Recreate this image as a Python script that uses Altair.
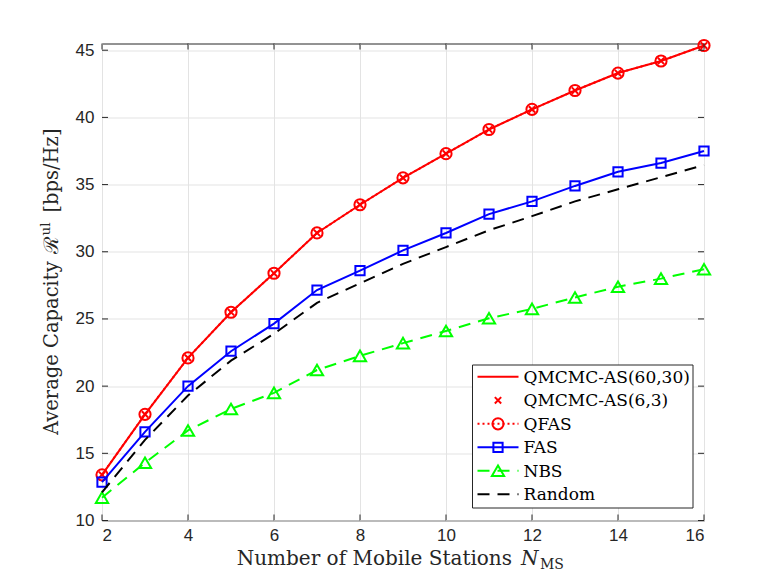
import altair as alt
import pandas as pd

# ---------------- data ----------------
N_MS = [2, 3, 4, 5, 6, 7, 8, 9, 10, 11, 12, 13, 14, 15, 16]
qmcmc_60_30 = [13.4, 17.9, 22.1, 25.5, 28.4, 31.4, 33.5, 35.5, 37.3, 39.1, 40.6, 42.0, 43.3, 44.2, 45.35]
qmcmc_6_3 = [13.4, 17.9, 22.1, 25.5, 28.4, 31.4, 33.5, 35.5, 37.3, 39.1, 40.6, 42.0, 43.3, 44.2, 45.35]
qfas = [13.4, 17.9, 22.1, 25.5, 28.4, 31.4, 33.5, 35.5, 37.3, 39.1, 40.6, 42.0, 43.3, 44.2, 45.35]
fas = [12.85, 16.6, 20.0, 22.6, 24.65, 27.15, 28.6, 30.1, 31.4, 32.8, 33.75, 34.9, 35.95, 36.6, 37.5]
nbs = [11.7, 14.3, 16.7, 18.3, 19.5, 21.2, 22.25, 23.2, 24.1, 25.05, 25.75, 26.6, 27.4, 28.0, 28.7]
random_bs = [12.1, 16.0, 19.3, 21.9, 23.9, 26.2, 27.65, 29.1, 30.35, 31.6, 32.65, 33.75, 34.65, 35.55, 36.45]

series_names = ["QMCMC-AS(60,30)", "QMCMC-AS(6,3)", "QFAS", "FAS", "NBS", "Random"]
series_values = [qmcmc_60_30, qmcmc_6_3, qfas, fas, nbs, random_bs]

x_ticks = [2, 4, 6, 8, 10, 12, 14, 16]
y_ticks = [10, 15, 20, 25, 30, 35, 40, 45]

# ---------------- build table ----------------
rows = []
for name, vals in zip(series_names, series_values):
    for xv, yv in zip(N_MS, vals):
        rows.append({"series": name, "x": xv, "y": yv})
df = pd.DataFrame(rows)

W, H = 602, 477
AXIS_COLOR = "#262626"
X_SHAPE = "M-1,-1L1,1M-1,1L1,-1"

X = alt.X("x:Q", scale=alt.Scale(domain=[2, 16], nice=False, zero=False),
          axis=alt.Axis(values=x_ticks, title=None, ticks=False, domain=False,
                        labelPadding=7, format="d"))
Y = alt.Y("y:Q", scale=alt.Scale(domain=[10, 45.5], nice=False, zero=False),
          axis=alt.Axis(values=y_ticks, title=None, ticks=False, domain=False,
                        labelPadding=8, format="d"))

base = alt.Chart(df)


def sel(name):
    return base.transform_filter(alt.datum.series == name)


layers = []

# data series
layers.append(sel("QFAS").mark_line(color="#ff0000", strokeWidth=2, strokeDash=[2, 3]).encode(X, Y))
layers.append(sel("QMCMC-AS(60,30)").mark_line(color="#ff0000", strokeWidth=2).encode(X, Y))
layers.append(sel("QFAS").mark_point(shape="circle", filled=False, color="#ff0000",
                                     size=125, strokeWidth=2, opacity=1).encode(X, Y))
layers.append(sel("QMCMC-AS(6,3)").mark_point(shape=X_SHAPE, filled=False, color="#ff0000",
                                              size=40, strokeWidth=2, opacity=1).encode(X, Y))
layers.append(sel("FAS").mark_line(color="#0000ff", strokeWidth=2).encode(X, Y))
layers.append(sel("FAS").mark_point(shape="square", filled=False, color="#0000ff",
                                    size=85, strokeWidth=2, opacity=1).encode(X, Y))
layers.append(sel("NBS").mark_line(color="#00ff00", strokeWidth=2, strokeDash=[12, 8]).encode(X, Y))
layers.append(sel("NBS").mark_point(shape="triangle-up", filled=False, color="#00ff00",
                                    size=150, strokeWidth=2, opacity=1).encode(X, Y))
layers.append(sel("Random").mark_line(color="#000000", strokeWidth=2, strokeDash=[12, 8]).encode(X, Y))

# inward ticks on all four sides
xt = alt.Chart(pd.DataFrame({"x": x_ticks}))
yt = alt.Chart(pd.DataFrame({"y": y_ticks}))
layers.append(xt.mark_rule(color=AXIS_COLOR, strokeWidth=1).encode(X, y=alt.value(H), y2=alt.value(H - 6)))
layers.append(xt.mark_rule(color=AXIS_COLOR, strokeWidth=1).encode(X, y=alt.value(0), y2=alt.value(6)))
layers.append(yt.mark_rule(color=AXIS_COLOR, strokeWidth=1).encode(Y, x=alt.value(0), x2=alt.value(6)))
layers.append(yt.mark_rule(color=AXIS_COLOR, strokeWidth=1).encode(Y, x=alt.value(W - 6), x2=alt.value(W)))

one = pd.DataFrame({"k": [0]})


def deco():
    return alt.Chart(one)


# legend box
LX0, LX1, LY0, LY1 = 370.5, 591, 321.5, 464.5
layers.append(deco().mark_rect(fill="white", stroke=AXIS_COLOR, strokeWidth=1).encode(
    x=alt.value(LX0), x2=alt.value(LX1), y=alt.value(LY0), y2=alt.value(LY1)))

leg_style = {
    "QMCMC-AS(60,30)": dict(color="#ff0000", dash=None, line=True, shape=None, size=0),
    "QMCMC-AS(6,3)": dict(color="#ff0000", dash=None, line=False, shape=X_SHAPE, size=40),
    "QFAS": dict(color="#ff0000", dash=[2, 3], line=True, shape="circle", size=125),
    "FAS": dict(color="#0000ff", dash=None, line=True, shape="square", size=85),
    "NBS": dict(color="#00ff00", dash=[12, 8], line=True, shape="triangle-up", size=150),
    "Random": dict(color="#000000", dash=[12, 8], line=True, shape=None, size=0),
}
row_y0, row_step = 333.3, 23.5
for i, name in enumerate(series_names):
    st = leg_style[name]
    yy = row_y0 + i * row_step
    if st["line"]:
        kw = dict(color=st["color"], strokeWidth=2)
        if st["dash"]:
            kw["strokeDash"] = st["dash"]
        layers.append(deco().mark_rule(**kw).encode(
            x=alt.value(375.5), x2=alt.value(416.5), y=alt.value(yy)))
    if st["shape"]:
        layers.append(deco().mark_point(shape=st["shape"], filled=False, color=st["color"],
                                        size=st["size"], strokeWidth=2, opacity=1).encode(
            x=alt.value(396), y=alt.value(yy)))
    layers.append(deco().mark_text(text=name, font="DejaVu Serif", fontSize=17, align="left",
                                   baseline="middle", color="black").encode(
        x=alt.value(421.5), y=alt.value(yy + 1)))

# x-axis title: Number of Mobile Stations N_MS
layers.append(deco().mark_text(text="Number of Mobile Stations", font="DejaVu Serif", fontSize=20,
                               align="right", baseline="alphabetic", color="#262626").encode(
    x=alt.value(410), y=alt.value(521)))
layers.append(deco().mark_text(text="N", font="DejaVu Serif", fontStyle="italic", fontSize=20,
                               align="left", baseline="alphabetic", color="#262626").encode(
    x=alt.value(419), y=alt.value(521)))
layers.append(deco().mark_text(text="MS", font="DejaVu Serif", fontSize=14,
                               align="left", baseline="alphabetic", color="#262626").encode(
    x=alt.value(438), y=alt.value(525)))

# y-axis title: Average Capacity R^ul [bps/Hz]
YB = -44.5
layers.append(deco().mark_text(text="Average Capacity", font="DejaVu Serif", fontSize=19.5, angle=270,
                               align="left", baseline="alphabetic", color="#262626").encode(
    x=alt.value(YB), y=alt.value(391.5)))
layers.append(deco().mark_text(text="\u211B", font="DejaVu Serif", fontSize=20, angle=270,
                               align="left", baseline="alphabetic", color="#262626").encode(
    x=alt.value(YB), y=alt.value(210.5)))
layers.append(deco().mark_text(text="ul", font="DejaVu Serif", fontSize=13.5, angle=270,
                               align="left", baseline="alphabetic", color="#262626").encode(
    x=alt.value(YB - 8), y=alt.value(192)))
layers.append(deco().mark_text(text="[bps/Hz]", font="DejaVu Serif", fontSize=19.5, angle=270,
                               align="right", baseline="alphabetic", color="#262626").encode(
    x=alt.value(YB), y=alt.value(85)))

chart = alt.layer(*layers).properties(
    width=W, height=H,
    padding={"left": 94, "top": 35.5, "right": 58, "bottom": 50},
    autosize=alt.AutoSizeParams(type="none"),
    background="white",
).configure_view(
    stroke=AXIS_COLOR, strokeWidth=1
).configure_axis(
    grid=True, gridColor="#e3e3e3", gridWidth=1,
    labelFont="Liberation Sans", labelFontSize=17, labelColor=AXIS_COLOR,
)

chart.save("out.html", embed_options={"renderer": "svg", "actions": False})
